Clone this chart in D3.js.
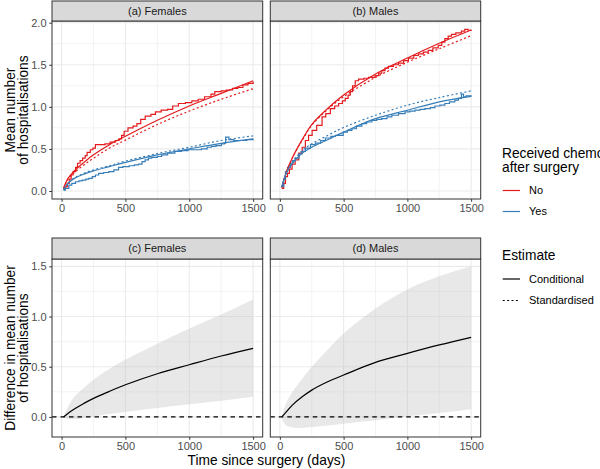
<!DOCTYPE html>
<html>
<head>
<meta charset="utf-8">
<script src="https://cdn.jsdelivr.net/npm/d3@7"></script>
<style>
	body { margin: 0; background: #fff; }
	svg { font-family: "Liberation Sans", Arial, Helvetica, sans-serif; }
</style>
</head>
<body>
<svg id="chart" width="600" height="469"></svg>
<script>
'use strict';

// time grid (days) for the fitted curves
var days = [15, 50, 100, 175, 250, 375, 500, 750, 1000, 1250, 1500];

// females, fitted mean number of hospitalisations
var femNoCond  = [0.03, 0.15, 0.24, 0.34, 0.43, 0.55, 0.65, 0.84, 1.01, 1.16, 1.31];
var femNoStd   = [0.03, 0.14, 0.22, 0.31, 0.39, 0.51, 0.605, 0.79, 0.95, 1.09, 1.215];
var femYesCond = [0.02, 0.09, 0.15, 0.20, 0.24, 0.29, 0.34, 0.43, 0.50, 0.567, 0.62];
var femYesStd  = [0.02, 0.09, 0.155, 0.21, 0.25, 0.30, 0.355, 0.445, 0.52, 0.60, 0.655];

// males, fitted mean number of hospitalisations
var maleNoCond  = [0.04, 0.22, 0.40, 0.61, 0.79, 0.98, 1.14, 1.39, 1.58, 1.755, 1.913];
var maleNoStd   = [0.04, 0.22, 0.40, 0.60, 0.78, 0.97, 1.12, 1.35, 1.53, 1.69, 1.846];
var maleYesCond = [0.05, 0.21, 0.33, 0.45, 0.52, 0.61, 0.70, 0.86, 0.96, 1.06, 1.125];
var maleYesStd  = [0.05, 0.21, 0.35, 0.48, 0.56, 0.66, 0.755, 0.90, 1.02, 1.11, 1.19];

// nonparametric step estimates [day, mean]
var femNoStep = [
	[15, 0.02], [30, 0.05], [45, 0.09], [60, 0.14], [75, 0.19], [90, 0.23], [110, 0.28],
	[125, 0.33], [145, 0.36], [165, 0.39], [185, 0.42], [200, 0.46], [225, 0.49], [245, 0.51],
	[265, 0.55], [300, 0.55], [340, 0.56], [380, 0.58], [420, 0.60], [450, 0.62], [470, 0.66],
	[490, 0.71], [520, 0.75], [560, 0.77], [590, 0.80], [620, 0.85], [655, 0.89], [700, 0.91],
	[735, 0.94], [780, 0.96], [830, 0.97], [870, 1.01], [915, 1.04], [970, 1.05], [1020, 1.07],
	[1070, 1.09], [1120, 1.12], [1170, 1.15], [1200, 1.18], [1250, 1.19], [1290, 1.20],
	[1340, 1.22], [1380, 1.23], [1420, 1.26], [1460, 1.28], [1500, 1.30]
];
var femYesStep = [
	[15, 0.01], [30, 0.03], [57, 0.07], [80, 0.09], [109, 0.11], [135, 0.12], [161, 0.13],
	[190, 0.14], [213, 0.15], [240, 0.17], [265, 0.19], [290, 0.21], [330, 0.22], [370, 0.23],
	[410, 0.25], [446, 0.28], [480, 0.29], [530, 0.30], [570, 0.31], [602, 0.32], [630, 0.35],
	[654, 0.37], [680, 0.39], [706, 0.40], [750, 0.41], [784, 0.43], [830, 0.45], [887, 0.47],
	[940, 0.48], [991, 0.49], [1040, 0.49], [1095, 0.50], [1140, 0.52], [1173, 0.53],
	[1210, 0.54], [1251, 0.56], [1275, 0.57], [1285, 0.64], [1310, 0.61], [1350, 0.60],
	[1400, 0.60], [1450, 0.61], [1500, 0.62]
];
var maleNoStep = [
	[15, 0.03], [30, 0.09], [44, 0.17], [60, 0.21], [75, 0.26], [96, 0.32], [120, 0.37],
	[148, 0.45], [175, 0.52], [200, 0.60], [225, 0.66], [253, 0.72], [289, 0.78], [331, 0.88],
	[360, 0.92], [396, 0.98], [430, 1.01], [461, 1.04], [490, 1.07], [513, 1.10], [535, 1.14],
	[552, 1.18], [570, 1.25], [591, 1.31], [617, 1.33], [660, 1.34], [695, 1.35], [747, 1.37],
	[775, 1.40], [799, 1.43], [825, 1.46], [851, 1.48], [890, 1.50], [930, 1.52], [970, 1.55],
	[1008, 1.58], [1050, 1.61], [1086, 1.63], [1125, 1.65], [1164, 1.67], [1200, 1.70],
	[1242, 1.73], [1270, 1.77], [1294, 1.81], [1320, 1.84], [1346, 1.86], [1380, 1.88],
	[1424, 1.90], [1450, 1.92], [1476, 1.91], [1500, 1.90]
];
var maleYesStep = [
	[15, 0.05], [30, 0.14], [44, 0.23], [60, 0.28], [83, 0.33], [100, 0.36], [122, 0.39],
	[150, 0.44], [175, 0.47], [200, 0.51], [240, 0.55], [279, 0.57], [320, 0.60], [357, 0.63],
	[400, 0.65], [435, 0.66], [497, 0.70], [530, 0.72], [565, 0.74], [600, 0.77], [643, 0.80],
	[680, 0.82], [721, 0.84], [760, 0.85], [799, 0.86], [840, 0.88], [878, 0.90], [930, 0.92],
	[982, 0.94], [1020, 0.95], [1060, 0.96], [1100, 0.97], [1138, 0.98], [1180, 0.99],
	[1216, 1.01], [1255, 1.02], [1294, 1.04], [1330, 1.06], [1372, 1.08], [1400, 1.10],
	[1424, 1.15], [1440, 1.12], [1460, 1.13], [1500, 1.12]
];

// difference (No - Yes) with confidence band
var femDiff  = [0.0, 0.035, 0.08, 0.135, 0.185, 0.255, 0.32, 0.43, 0.52, 0.607, 0.683];
var femLow   = [0.0, -0.02, -0.022, -0.012, 0.005, 0.03, 0.05, 0.09, 0.127, 0.16, 0.20];
var femHigh  = [0.0, 0.10, 0.20, 0.29, 0.37, 0.48, 0.57, 0.73, 0.88, 1.02, 1.17];
var maleDiff = [0.0, 0.05, 0.12, 0.20, 0.267, 0.35, 0.417, 0.543, 0.633, 0.717, 0.793];
var maleLow  = [-0.02, -0.085, -0.105, -0.11, -0.10, -0.085, -0.067, -0.033, 0.007, 0.04, 0.077];
var maleHigh = [0.0, 0.14, 0.25, 0.38, 0.50, 0.67, 0.83, 1.08, 1.27, 1.40, 1.50];

var xTicks      = [0, 500, 1000, 1500];
var xMinor      = [250, 750, 1250];
var yTopTicks   = [0, 0.5, 1, 1.5, 2];
var yTopMinor   = [0.25, 0.75, 1.25, 1.75];
var yBotTicks   = [0, 0.5, 1, 1.5];
var yBotMinor   = [0.25, 0.75, 1.25];
var chemoGroups = ['No', 'Yes'];
var estimates   = ['Conditional', 'Standardised'];

var RED  = '#E41A1C';
var BLUE = '#377EB8';
var DOT  = '2,2.4';

var svg = d3.select('#chart');

var xLeft  = d3.scaleLinear().domain([-75, 1575]).range([52, 262.7]);
var xRight = d3.scaleLinear().domain([-75, 1575]).range([270.3, 480.7]);
var yTop   = d3.scaleLinear().domain([-0.095, 2.02]).range([199, 21]);
var yBot   = d3.scaleLinear().domain([-0.2, 1.573]).range([437, 259]);

var smoothCurve = d3.curveCatmullRom.alpha(0.5);

function zip(ys) {
	return days.map(function (d, i) { return [d, ys[i]]; });
}

function drawPanel(p, id) {
	var x  = p.x;
	var y  = p.y;
	var x0 = x.range()[0];
	var x1 = x.range()[1];
	var yb = y.range()[0];
	var yt = y.range()[1];
	var g  = svg.append('g');

	svg.append('clipPath').attr('id', 'clip' + id)
		.append('rect')
		.attr('x', x0).attr('y', yt).attr('width', x1 - x0).attr('height', yb - yt);

	g.append('rect')
		.attr('x', x0).attr('y', yt).attr('width', x1 - x0).attr('height', yb - yt)
		.attr('fill', '#fff');

	// grid
	g.selectAll('.xminor').data(xMinor).enter().append('line')
		.attr('x1', x).attr('x2', x).attr('y1', yt).attr('y2', yb)
		.attr('stroke', '#EBEBEB').attr('stroke-width', 0.6);
	g.selectAll('.yminor').data(p.yMinor).enter().append('line')
		.attr('y1', y).attr('y2', y).attr('x1', x0).attr('x2', x1)
		.attr('stroke', '#EBEBEB').attr('stroke-width', 0.6);
	g.selectAll('.xmajor').data(xTicks).enter().append('line')
		.attr('x1', x).attr('x2', x).attr('y1', yt).attr('y2', yb)
		.attr('stroke', '#EBEBEB').attr('stroke-width', 1.1);
	g.selectAll('.ymajor').data(p.yTicks).enter().append('line')
		.attr('y1', y).attr('y2', y).attr('x1', x0).attr('x2', x1)
		.attr('stroke', '#EBEBEB').attr('stroke-width', 1.1);

	var data = g.append('g').attr('clip-path', 'url(#clip' + id + ')');
	p.draw(data, x, y);

	g.append('rect')
		.attr('x', x0).attr('y', yt).attr('width', x1 - x0).attr('height', yb - yt)
		.attr('fill', 'none').attr('stroke', '#333').attr('stroke-width', 1);

	// strip
	g.append('rect')
		.attr('x', x0).attr('y', p.stripTop).attr('width', x1 - x0).attr('height', yt - p.stripTop)
		.attr('fill', '#D9D9D9').attr('stroke', '#333').attr('stroke-width', 1);
	g.append('text')
		.attr('x', (x0 + x1) / 2).attr('y', (p.stripTop + yt) / 2)
		.attr('dy', '0.36em')
		.attr('text-anchor', 'middle')
		.attr('font-size', 11).attr('fill', '#1A1A1A')
		.text(p.label);

	// axes
	var xa = g.append('g').attr('transform', 'translate(0,' + yb + ')')
		.call(d3.axisBottom(x).tickValues(xTicks).tickSize(2.75).tickPadding(2.75)
			.tickFormat(d3.format('d')));
	styleAxis(xa);

	if (p.yAxis) {
		var ya = g.append('g').attr('transform', 'translate(' + x0 + ',0)')
			.call(d3.axisLeft(y).tickValues(p.yTicks).tickSize(2.75).tickPadding(2.75)
				.tickFormat(d3.format('.1f')));
		styleAxis(ya);
	}
}

function styleAxis(a) {
	a.select('.domain').remove();
	a.selectAll('line').attr('stroke', '#333').attr('stroke-width', 1);
	a.selectAll('text')
		.attr('font-size', 11)
		.attr('font-family', '"Liberation Sans", Arial, Helvetica, sans-serif')
		.attr('fill', '#4D4D4D');
}

function drawHosp(fits, steps) {
	return function (g, x, y) {
		var smooth = d3.line()
			.x(function (d) { return x(d[0]); })
			.y(function (d) { return y(d[1]); })
			.curve(smoothCurve);
		var step = d3.line()
			.x(function (d) { return x(d[0]); })
			.y(function (d) { return y(d[1]); })
			.curve(d3.curveStepAfter);

		steps.forEach(function (s) {
			g.append('path').datum(s.data)
				.attr('d', step)
				.attr('fill', 'none').attr('stroke', s.color).attr('stroke-width', 1.2);
		});

		fits.forEach(function (f) {
			g.append('path').datum(zip(f.data))
				.attr('d', smooth)
				.attr('fill', 'none').attr('stroke', f.color).attr('stroke-width', 1.2)
				.attr('stroke-dasharray', f.dotted ? DOT : null);
		});
	};
}

function drawDiff(mid, low, high) {
	return function (g, x, y) {
		var band = d3.area()
			.x(function (d) { return x(d); })
			.y0(function (d, i) { return y(low[i]); })
			.y1(function (d, i) { return y(high[i]); })
			.curve(smoothCurve);

		g.append('path').datum(days)
			.attr('d', band)
			.attr('fill', '#BEBEBE').attr('fill-opacity', 0.35);

		g.append('line')
			.attr('x1', x.range()[0]).attr('x2', x.range()[1])
			.attr('y1', y(0)).attr('y2', y(0))
			.attr('stroke', '#000').attr('stroke-width', 1.1)
			.attr('stroke-dasharray', '4.5,4');

		g.append('path').datum(zip(mid))
			.attr('d', d3.line()
				.x(function (d) { return x(d[0]); })
				.y(function (d) { return y(d[1]); })
				.curve(smoothCurve))
			.attr('fill', 'none').attr('stroke', '#000').attr('stroke-width', 1.2);
	};
}

var panels = [
	{
		label: '(a) Females', x: xLeft, y: yTop, yTicks: yTopTicks, yMinor: yTopMinor,
		stripTop: 1, yAxis: true,
		draw: drawHosp([
			{ data: femNoCond, color: RED }, { data: femNoStd, color: RED, dotted: true },
			{ data: femYesCond, color: BLUE }, { data: femYesStd, color: BLUE, dotted: true }
		], [{ data: femNoStep, color: RED }, { data: femYesStep, color: BLUE }])
	},
	{
		label: '(b) Males', x: xRight, y: yTop, yTicks: yTopTicks, yMinor: yTopMinor,
		stripTop: 1, yAxis: false,
		draw: drawHosp([
			{ data: maleNoCond, color: RED }, { data: maleNoStd, color: RED, dotted: true },
			{ data: maleYesCond, color: BLUE }, { data: maleYesStd, color: BLUE, dotted: true }
		], [{ data: maleNoStep, color: RED }, { data: maleYesStep, color: BLUE }])
	},
	{
		label: '(c) Females', x: xLeft, y: yBot, yTicks: yBotTicks, yMinor: yBotMinor,
		stripTop: 238, yAxis: true,
		draw: drawDiff(femDiff, femLow, femHigh)
	},
	{
		label: '(d) Males', x: xRight, y: yBot, yTicks: yBotTicks, yMinor: yBotMinor,
		stripTop: 238, yAxis: false,
		draw: drawDiff(maleDiff, maleLow, maleHigh)
	}
];

panels.forEach(drawPanel);

// axis titles
function rotTitle(cy, lines) {
	var t = svg.append('text')
		.attr('transform', 'translate(14.5,' + cy + ') rotate(-90)')
		.attr('text-anchor', 'middle')
		.attr('font-size', 13.75).attr('fill', '#000');
	lines.forEach(function (l, i) {
		t.append('tspan').attr('x', 0).attr('y', i * 13.2).text(l);
	});
}

rotTitle(110, ['Mean number', 'of hospitalisations']);
rotTitle(348, ['Difference in mean number', 'of hospitalisations']);

svg.append('text')
	.attr('x', 266.4).attr('y', 465)
	.attr('text-anchor', 'middle')
	.attr('font-size', 13.75).attr('fill', '#000')
	.text('Time since surgery (days)');

// legends
var leg1 = svg.append('g');
leg1.append('text').attr('x', 502).attr('y', 158).attr('font-size', 13.75).text('Received chemo');
leg1.append('text').attr('x', 502).attr('y', 172).attr('font-size', 13.75).text('after surgery');

chemoGroups.forEach(function (c, i) {
	var cy = 190.5 + i * 21;
	leg1.append('line')
		.attr('x1', 502.7).attr('x2', 520).attr('y1', cy).attr('y2', cy)
		.attr('stroke', i === 0 ? RED : BLUE).attr('stroke-width', 1.2);
	leg1.append('text').attr('x', 529).attr('y', cy).attr('dy', '0.36em')
		.attr('font-size', 11).text(c);
});

var leg2 = svg.append('g');
leg2.append('text').attr('x', 502).attr('y', 260).attr('font-size', 13.75).text('Estimate');

estimates.forEach(function (e, i) {
	var cy = 279 + i * 21.5;
	leg2.append('line')
		.attr('x1', 502.7).attr('x2', 520).attr('y1', cy).attr('y2', cy)
		.attr('stroke', '#000').attr('stroke-width', 1.2)
		.attr('stroke-dasharray', i === 1 ? DOT : null);
	leg2.append('text').attr('x', 529).attr('y', cy).attr('dy', '0.36em')
		.attr('font-size', 11).text(e);
});
</script>
</body>
</html>
